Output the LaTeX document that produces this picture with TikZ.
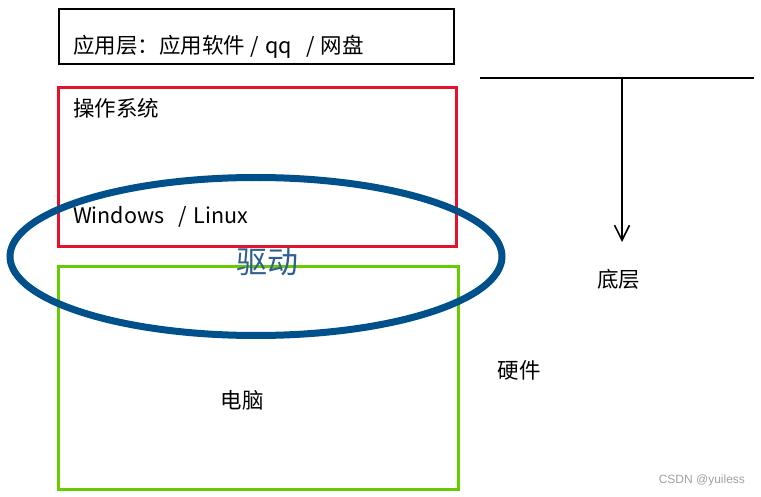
\documentclass[tikz,border=0pt]{standalone}
\usepackage{fontspec}
\setmainfont{Noto Sans CJK SC}
\newfontfamily\markfont{Liberation Sans}
\usepackage{tikz}
\usetikzlibrary{positioning,calc,arrows.meta}
\usepackage{xcolor}
\definecolor{osred}{HTML}{E3132C}
\definecolor{hwgreen}{HTML}{66CC00}
\definecolor{drvblue}{HTML}{00508C}
\definecolor{drvtext}{HTML}{2F5F8F}
\definecolor{markgray}{HTML}{A0A0A0}

\begin{document}
\begin{tikzpicture}[x=1pt,y=-1pt,
  every node/.style={inner sep=0pt,outer sep=0pt},
  layerbox/.style={draw,minimum width=#1},
  label22/.style={font=\fontsize{21.5}{26}\selectfont}]
\useasboundingbox (0,0) rectangle (761,497);
% BOX 1: application layer
\node[layerbox=395, minimum height=55, line width=1.6] (app) at (256.5,36.5) {};
\node[label22, anchor=west] (apptxt) at (73,47) {应用层：应用软件\hspace{6pt}/\hspace{6pt}qq\hspace{14pt}/\hspace{6pt}网盘};
% BOX 2: operating system
\node[layerbox=398, minimum height=159, draw=osred, line width=3] (os) at (257,167.5) {};
\node[label22, anchor=west] (ostxt) at (73,108) {操作系统};
\node[label22, anchor=west] (winlinux) at (73,217) {Windows\hspace{14pt}/\hspace{7pt}Linux};
% BOX 3: hardware (computer)
\node[layerbox=400, minimum height=222, draw=hwgreen, line width=3] (pc) at (258,378) {};
\node[label22] (pctxt) at (242,400) {电脑};
% DRIVER ellipse across os and hardware
\draw[drvblue, line width=7] (256,256.5) ellipse [x radius=246, y radius=79];
\node[font=\fontsize{31}{36}\selectfont, text=drvtext] (drv) at (267,262) {驱动};
% RIGHT: direction towards the bottom layer
\coordinate (hl) at (480,78);
\coordinate (hr) at (754,78);
\coordinate (top) at (622,78);
\coordinate (tip) at (622,242);
\draw[line width=1.6] (hl) -- (hr);
\draw[line width=1.6, -{Straight Barb[length=15pt,width=15pt]}] (top) -- (tip);
\node[label22] (bottom) at (618.5,279) {底层};
\node[label22] (hw) at (519,370) {硬件};
% FOOTER: watermark
\node[font=\markfont\fontsize{12}{14}\selectfont, text=markgray, anchor=east] (mark) at (745,480) {CSDN @yuiless};
\end{tikzpicture}
\end{document}
